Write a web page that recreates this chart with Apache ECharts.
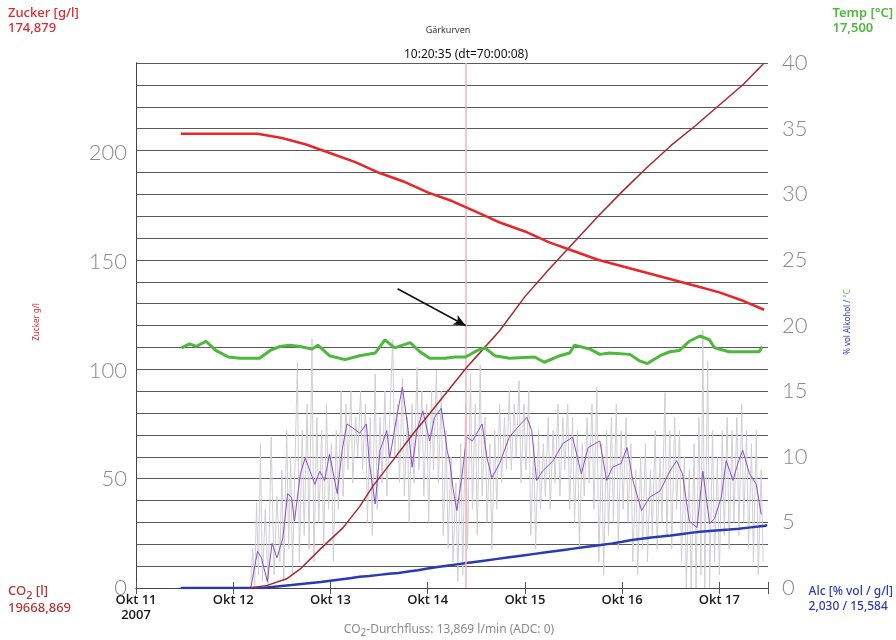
<!DOCTYPE html>
<html>
<head>
<meta charset="utf-8">
<script src="https://cdn.jsdelivr.net/npm/echarts@6/dist/echarts.min.js"></script>
<style>html,body{margin:0;padding:0;background:#fff;}#c{width:896px;height:640px;}</style>
</head>
<body>
<div id="c"></div>
<script>
// ---- data (x in days since Okt 11 2007 00:00) ----
const dayLabels = ['Okt 11', 'Okt 12', 'Okt 13', 'Okt 14', 'Okt 15', 'Okt 16', 'Okt 17'];
const yearLabel = '2007';
const leftTicks = [0, 50, 100, 150, 200];
const rightTicks = [0, 5, 10, 15, 20, 25, 30, 35, 40];

const sugarT = [0.46, 1.0, 1.25, 1.5, 1.75, 2.0, 2.25, 2.5, 2.75, 3.0, 3.25, 3.5, 3.75, 4.0, 4.25, 4.5, 4.75, 5.0, 5.25, 5.5, 5.75, 6.0, 6.25, 6.46];
const sugarV = [209, 209, 209, 207, 204, 200, 196, 191, 187, 182, 178, 173, 168, 164, 159, 155, 151, 148, 145, 142, 139, 136, 132, 128];

const co2T = [1.17, 1.35, 1.55, 1.69, 1.9, 2.13, 2.3, 2.44, 2.65, 2.85, 3.0, 3.13, 3.4, 3.57, 3.74, 4.0, 4.25, 4.5, 4.75, 5.0, 5.25, 5.5, 5.75, 6.0, 6.25, 6.46];
const co2V = [0, 0.2, 0.7, 1.45, 3.0, 4.6, 6.2, 7.8, 9.8, 11.75, 13.1, 14.3, 16.8, 18.2, 19.6, 22.2, 24.3, 26.3, 28.3, 30.2, 32.0, 33.7, 35.2, 36.8, 38.4, 40];

const tempT = [0.47, 0.55, 0.62, 0.72, 0.82, 0.95, 1.07, 1.27, 1.38, 1.48, 1.58, 1.69, 1.81, 1.87, 1.99, 2.15, 2.30, 2.46, 2.56, 2.66, 2.82, 2.92, 3.02, 3.18, 3.28, 3.39, 3.51, 3.59, 3.69, 3.84, 4.10, 4.20, 4.36, 4.46, 4.51, 4.67, 4.77, 4.87, 5.08, 5.18, 5.26, 5.39, 5.49, 5.59, 5.69, 5.80, 5.90, 5.95, 6.10, 6.26, 6.41, 6.44];
const tempV = [18.3, 18.6, 18.4, 18.8, 18.1, 17.6, 17.5, 17.5, 18.1, 18.4, 18.5, 18.4, 18.2, 18.5, 17.7, 17.4, 17.7, 17.9, 18.9, 18.3, 18.7, 18.0, 17.5, 17.5, 17.6, 17.6, 18.1, 18.3, 17.7, 17.5, 17.6, 17.2, 17.7, 17.9, 18.5, 18.2, 17.8, 17.9, 17.8, 17.3, 17.1, 17.7, 18.0, 18.1, 18.8, 19.2, 18.9, 18.3, 18.0, 18.0, 18.0, 18.4];

const alcT = [0.46, 1.2, 1.3, 1.4, 1.5, 1.6, 1.7, 1.8, 1.9, 2.0, 2.1, 2.2, 2.3, 2.4, 2.5, 2.6, 2.7, 2.8, 2.9, 3.0, 3.1, 3.2, 3.3, 3.4, 3.5, 3.6, 3.7, 3.8, 3.9, 4.0, 4.1, 4.2, 4.3, 4.4, 4.5, 4.6, 4.7, 4.8, 4.9, 5.0, 5.1, 5.2, 5.3, 5.4, 5.5, 5.6, 5.7, 5.8, 5.9, 6.0, 6.1, 6.2, 6.3, 6.4, 6.48];
const alcV = [0, 0, 0.08, 0.15, 0.22, 0.3, 0.38, 0.45, 0.55, 0.65, 0.75, 0.85, 0.92, 1.0, 1.08, 1.15, 1.25, 1.35, 1.48, 1.6, 1.7, 1.8, 1.9, 2.0, 2.1, 2.2, 2.3, 2.4, 2.5, 2.6, 2.7, 2.8, 2.9, 3.0, 3.1, 3.2, 3.3, 3.4, 3.52, 3.65, 3.75, 3.85, 3.92, 4.0, 4.1, 4.2, 4.28, 4.35, 4.4, 4.45, 4.52, 4.6, 4.68, 4.75, 4.85];

const flowAvgT = [1.18, 1.20, 1.25, 1.29, 1.35, 1.40, 1.45, 1.51, 1.56, 1.60, 1.63, 1.69, 1.74, 1.79, 1.84, 1.89, 1.94, 1.99, 2.07, 2.12, 2.17, 2.23, 2.30, 2.37, 2.40, 2.46, 2.51, 2.58, 2.61, 2.68, 2.74, 2.80, 2.84, 2.89, 2.95, 3.02, 3.07, 3.14, 3.20, 3.23, 3.26, 3.30, 3.35, 3.40, 3.46, 3.56, 3.61, 3.66, 3.74, 3.84, 3.92, 4.02, 4.07, 4.12, 4.18, 4.29, 4.39, 4.49, 4.58, 4.65, 4.77, 4.84, 4.90, 4.99, 5.05, 5.11, 5.20, 5.28, 5.39, 5.49, 5.56, 5.62, 5.69, 5.77, 5.83, 5.90, 5.95, 6.02, 6.07, 6.14, 6.19, 6.24, 6.31, 6.38, 6.43];
const flowAvgV = [0, 0, 2.8, 2.3, 0.5, 3.4, 2.3, 3.8, 7.2, 6.9, 5.1, 8.7, 9.9, 8.9, 7.9, 8.9, 8.2, 10.2, 7.2, 10.5, 12.5, 12.2, 11.8, 12.5, 9.5, 6.4, 10.5, 12, 9.9, 13, 15.3, 12, 9.2, 12, 13.5, 11.2, 13, 13.7, 10.5, 9.5, 7.6, 5.9, 8.4, 11.5, 11.2, 12.5, 9.9, 8.4, 9.5, 11.5, 12.2, 13, 12, 8.2, 8.9, 9.7, 11, 11.5, 8.7, 10.7, 11.2, 8.2, 9.2, 9.5, 10.7, 8.2, 5.9, 6.9, 7.4, 8.9, 9.7, 8.7, 5.1, 4.6, 8.9, 4.9, 5.3, 6.9, 9.7, 8.2, 9.5, 10.5, 8.7, 7.9, 5.6];

const flowRawT = [1.18, 1.20, 1.22, 1.24, 1.26, 1.28, 1.30, 1.33, 1.36, 1.39, 1.42, 1.45, 1.48, 1.50, 1.52, 1.55, 1.57, 1.59, 1.61, 1.63, 1.66, 1.68, 1.71, 1.73, 1.76, 1.78, 1.81, 1.83, 1.86, 1.88, 1.91, 1.93, 1.96, 1.98, 2.01, 2.03, 2.06, 2.08, 2.11, 2.13, 2.16, 2.18, 2.21, 2.23, 2.26, 2.28, 2.31, 2.33, 2.36, 2.38, 2.41, 2.43, 2.46, 2.48, 2.51, 2.53, 2.56, 2.58, 2.61, 2.64, 2.66, 2.69, 2.71, 2.74, 2.76, 2.79, 2.81, 2.84, 2.86, 2.89, 2.91, 2.94, 2.96, 2.99, 3.01, 3.04, 3.06, 3.09, 3.11, 3.14, 3.16, 3.19, 3.21, 3.24, 3.26, 3.29, 3.31, 3.34, 3.36, 3.39, 3.41, 3.44, 3.46, 3.49, 3.51, 3.54, 3.56, 3.59, 3.61, 3.64, 3.66, 3.69, 3.71, 3.74, 3.76, 3.79, 3.81, 3.84, 3.86, 3.89, 3.91, 3.94, 3.96, 3.99, 4.01, 4.04, 4.06, 4.09, 4.11, 4.14, 4.16, 4.19, 4.21, 4.24, 4.26, 4.29, 4.31, 4.34, 4.36, 4.39, 4.41, 4.44, 4.46, 4.49, 4.51, 4.54, 4.56, 4.59, 4.61, 4.64, 4.66, 4.69, 4.71, 4.74, 4.76, 4.79, 4.81, 4.84, 4.86, 4.89, 4.91, 4.94, 4.96, 4.99, 5.01, 5.04, 5.06, 5.09, 5.11, 5.14, 5.16, 5.19, 5.21, 5.24, 5.26, 5.29, 5.31, 5.34, 5.36, 5.39, 5.41, 5.44, 5.46, 5.49, 5.51, 5.54, 5.56, 5.59, 5.61, 5.64, 5.66, 5.69, 5.71, 5.74, 5.76, 5.79, 5.81, 5.83, 5.85, 5.88, 5.90, 5.93, 5.95, 5.98, 6.00, 6.03, 6.05, 6.08, 6.10, 6.13, 6.15, 6.18, 6.20, 6.23, 6.25, 6.28, 6.30, 6.33, 6.35, 6.38, 6.40, 6.43, 6.45];
const flowRawV = [0, 3, 0, 6.5, 1, 11, 0.5, 6, 0, 11.5, 1, 7, 2, 9, 0.5, 12, 3, 10, 1, 8, 17.2, 2, 12, 4, 14, 3, 19, 2, 13, 5, 12, 3, 14, 6, 11, 2, 12, 6, 15, 7, 14, 9, 15, 8, 13, 10, 15, 9, 14, 5, 13, 4, 16.3, 6, 13, 8, 15, 7, 13, 18.9, 10, 14, 8, 16, 7, 13, 5, 14, 8, 16.8, 9, 15, 7, 14, 5, 15, 9, 16.6, 8, 15, 4, 12, 3, 10, 2, 8, 0.5, 11, 1, 14, 3, 16.3, 6, 14, 4, 17, 7, 13, 5, 11, 3, 12, 6, 14, 8, 13, 9, 15, 9, 14, 10, 15.8, 8, 14, 9, 15, 4, 11, 3, 12, 6, 11, 7, 13, 6, 12, 8, 14, 7, 13, 9, 14, 6, 13, 5, 12, 3, 11, 7, 13, 8, 14, 6, 15.3, 2, 11, 1, 12, 4, 13, 5, 14, 3, 12, 6, 13, 5, 11, 2, 9, 1, 10, 3, 11, 2, 9, 4, 12, 3, 10, 5, 14.9, 4, 12, 3, 13, 6, 12, 2, 10, 0, 9, 0, 11, 0, 13, 1, 19.6, 0, 17.3, 0, 12, 2, 10, 1, 12, 4, 13, 3, 12, 5, 13, 4, 14, 5, 12, 3, 11, 2, 12, 1, 9, 2];

const cursorDay = 3.39;
const arrowFrom = [2.69, 22.8];
const arrowTo = [3.39, 20.0];

const zip = (t, v) => t.map((x, i) => [x, v[i]]);

const chart = echarts.init(document.getElementById('c'), null, { renderer: 'canvas' });
const numFont = { color: '#8a8a8a', fontSize: 22, fontFamily: 'Lato', fontWeight: 300 };
const option = {
  animation: false,
  backgroundColor: '#ffffff',
  grid: { left: 136, right: 128, top: 63, bottom: 52, show: false },
  xAxis: [
    {
      type: 'value', min: 0, max: 6.5, interval: 1, position: 'bottom',
      axisLine: { show: true, lineStyle: { color: '#444', width: 1 } },
      axisTick: { show: true, inside: true, length: 6, lineStyle: { color: '#555' } },
      splitLine: { show: false },
      axisLabel: {
        margin: 5, color: '#1a1a1a', fontSize: 13, fontFamily: 'Open Sans', fontWeight: 600, lineHeight: 15,
        formatter: v => {
          if (Math.abs(v - Math.round(v)) > 1e-6) return '';
          const i = Math.round(v);
          return i === 0 ? dayLabels[0] + '\n' + yearLabel : (dayLabels[i] || '');
        }
      }
    },
    {
      type: 'value', min: 0, max: 6.5, interval: 1, position: 'top',
      axisLine: { show: true, lineStyle: { color: '#444', width: 1 } },
      axisTick: { show: true, inside: true, length: 6, lineStyle: { color: '#555' } },
      axisLabel: { show: false }, splitLine: { show: false }
    }
  ],
  yAxis: [
    {
      type: 'value', min: 0, max: 241.5, interval: 50, position: 'left',
      axisLine: { show: true, lineStyle: { color: '#444' } },
      axisTick: { show: false }, splitLine: { show: false },
      axisLabel: Object.assign({ margin: 9, formatter: v => leftTicks.includes(v) ? String(v) : '' }, numFont)
    },
    {
      type: 'value', min: 0, max: 40, interval: 5, position: 'right',
      axisLine: { show: true, lineStyle: { color: '#444' } },
      axisTick: { show: false }, splitLine: { show: false },
      axisLabel: Object.assign({ margin: 14, formatter: v => rightTicks.includes(v) ? String(v) : '' }, numFont)
    },
    {
      type: 'value', min: 0, max: 24, interval: 1, position: 'left',
      axisLine: { show: false }, axisTick: { show: false }, axisLabel: { show: false },
      splitLine: { show: true, lineStyle: { color: '#5a5a5a', width: 1 } }
    }
  ],
  series: [
    {
      name: 'CO2-Durchfluss', type: 'line', yAxisIndex: 1, data: zip(flowRawT, flowRawV),
      symbol: 'none', lineStyle: { color: '#cfcfd4', width: 1 }, z: 2
    },
    {
      name: 'CO2-Durchfluss Mittel', type: 'line', yAxisIndex: 1, data: zip(flowAvgT, flowAvgV),
      symbol: 'none', lineStyle: { color: '#8650c8', width: 1 }, z: 3
    },
    {
      name: 'Alc', type: 'line', yAxisIndex: 1, data: zip(alcT, alcV), step: 'end',
      symbol: 'none', lineStyle: { color: '#2a3ab4', width: 2.5 }, z: 4
    },
    {
      name: 'CO2', type: 'line', yAxisIndex: 1, data: zip(co2T, co2V),
      symbol: 'none', lineStyle: { color: '#a42a2e', width: 1.5 }, z: 5,
      markLine: {
        silent: true, animation: false,
        symbol: ['none', 'none'],
        label: { show: false },
        data: [
          { xAxis: cursorDay, lineStyle: { color: '#f4b0b8', width: 1.5, type: 'solid' } },
          [
            { coord: arrowFrom, symbol: 'none', lineStyle: { color: '#111', width: 1.5, type: 'solid' } },
            { coord: arrowTo, symbol: 'arrow', symbolSize: [8, 12] }
          ]
        ]
      }
    },
    {
      name: 'Zucker', type: 'line', yAxisIndex: 0, data: zip(sugarT, sugarV),
      symbol: 'none', lineStyle: { color: '#e8262a', width: 2.5 }, z: 6
    },
    {
      name: 'Temp', type: 'line', yAxisIndex: 1, data: zip(tempT, tempV),
      symbol: 'none', lineStyle: { color: '#4cb83c', width: 3 }, z: 7
    }
  ],
  graphic: [
    { type: 'text', left: 8, top: 6, style: { text: 'Zucker [g/l]\n174,879', fill: '#e0282c', font: '500 13px "Noto Sans"', lineHeight: 15 } },
    { type: 'text', right: 3, top: 6, style: { text: 'Temp [°C]\n17,500', fill: '#4cbb3c', font: '600 13px "Noto Sans"', lineHeight: 15, align: 'right' } },
    { type: 'text', left: 'center', top: 26, style: { text: 'Gärkurven', fill: '#333', font: '9px "Noto Sans"' } },
    { type: 'text', x: 466, y: 49, style: { text: '10:20:35 (dt=70:00:08)', fill: '#111', font: '12px "Noto Sans"', align: 'center' } },
    { type: 'text', x: 37, y: 322, rotation: Math.PI / 2, style: { text: 'Zucker g/l', fill: '#e0282c', font: '8px "Noto Sans"', align: 'center', verticalAlign: 'middle' } },
    { type: 'text', x: 848, y: 322, rotation: Math.PI / 2, style: {
        text: '{b|% vol Alkohol / }{g|°C}', align: 'center', verticalAlign: 'middle',
        rich: { b: { fill: '#2a3ab4', font: '8px "Noto Sans"' }, g: { fill: '#4cbb3c', font: '8px "Noto Sans"' } } } },
    { type: 'text', left: 8, top: 582, style: {
        text: '{a|CO}{s|2}{a| [l]}\n{a|19668,869}',
        rich: { a: { fill: '#b03434', font: '500 13px "Noto Sans"', lineHeight: 17 }, s: { fill: '#b03434', font: '500 11px "Noto Sans"', padding: [8, 0, 0, 0], lineHeight: 17 } } } },
    { type: 'text', right: 3, top: 584, style: { text: 'Alc [% vol / g/l]\n2,030 / 15,584', fill: '#2a3ab4', font: '500 12px "Noto Sans"', lineHeight: 15 } },
    { type: 'text', x: 449, y: 622, style: {
        text: '{a|CO}{s|2}{a|-Durchfluss: 13,869 l/min (ADC: 0)}', align: 'center',
        rich: { a: { fill: '#8a8a8a', font: '12px "Noto Sans"', lineHeight: 16 }, s: { fill: '#8a8a8a', font: '10px "Noto Sans"', padding: [7, 0, 0, 0], lineHeight: 16 } } } }
  ]
};
chart.setOption(option);
</script>
</body>
</html>
